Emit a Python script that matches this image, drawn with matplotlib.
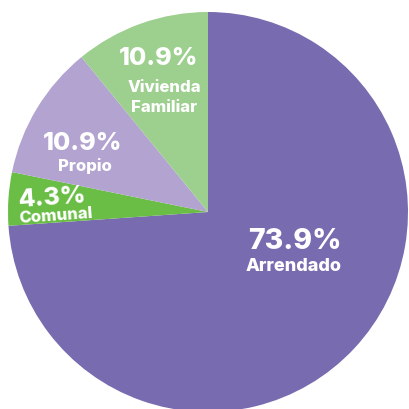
import matplotlib
matplotlib.use("Agg")
import matplotlib.pyplot as plt

# data
categories = ["Arrendado", "Comunal", "Propio", "Vivienda\nFamiliar"]
values = [73.9, 4.3, 10.9, 10.9]
colors = ["#786bb0", "#6abd45", "#b2a3d0", "#9dcf8f"]

# label baselines in data units (pct line, name line), plus rotation
pct_pos = [(0.435, -0.18), (-0.78, 0.03), (-0.625, 0.315), (-0.245, 0.74)]
name_pos = [(0.43, -0.29), (-0.76, -0.05), (-0.615, 0.21), (-0.22, 0.505)]
rots = [0, 4, 0, 0]
pct_sizes = [20.5, 18, 18, 18]
name_sizes = [13, 12, 12, 12]

plt.rcParams['font.family'] = ['Inter', 'DejaVu Sans']

fig = plt.figure(figsize=(4.09, 4.10), dpi=100)
ax = fig.add_axes([0, 0, 1, 1])

ax.pie(values, colors=colors, startangle=90, counterclock=False,
       radius=1.0, wedgeprops=dict(linewidth=0))

for i, cat in enumerate(categories):
    ax.text(pct_pos[i][0], pct_pos[i][1], f"{values[i]:.1f}%", color="white",
            fontsize=pct_sizes[i], fontweight="heavy", ha="center", va="baseline",
            rotation=rots[i])
    ax.text(name_pos[i][0], name_pos[i][1], cat, color="white",
            fontsize=name_sizes[i], fontweight="heavy", ha="center", va="baseline",
            rotation=rots[i], linespacing=1.4, multialignment="center")

ax.set_xlim(-1.04, 1.005)
ax.set_ylim(-0.985, 1.065)
ax.set_aspect("auto")
ax.axis("off")

fig.savefig("out.png", dpi=100, facecolor="white")
